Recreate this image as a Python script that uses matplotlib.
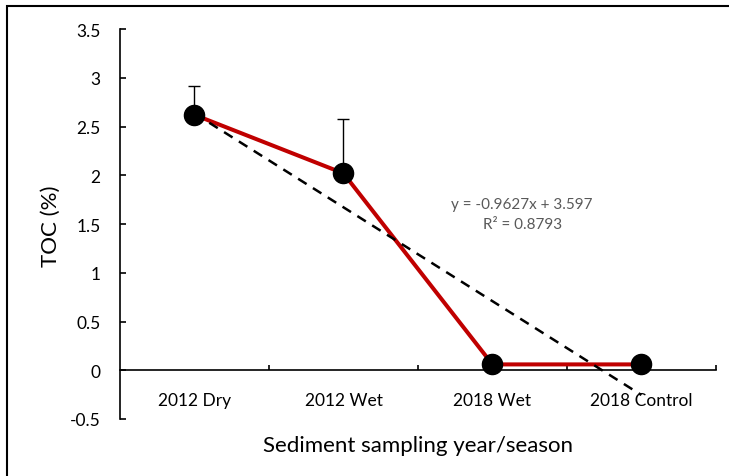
import matplotlib.pyplot as plt
from matplotlib.patches import Rectangle
from matplotlib.ticker import FuncFormatter

# TOC by sampling campaign
categories = ['2012 Dry', '2012 Wet', '2018 Wet', '2018 Control']
toc = [2.62, 2.02, 0.06, 0.06]
toc_err = [0.30, 0.56, 0.0, 0.0]

# linear trend line
slope = -0.9627
intercept = 3.597
r_squared = 0.8793

plt.rcParams['font.family'] = ['Lato', 'DejaVu Sans']

fig = plt.figure(figsize=(7.29, 4.77), dpi=100)
ax = fig.add_axes([0.1646, 0.1195, 0.8174, 0.8175])

x = list(range(1, len(categories) + 1))

ax.errorbar(x, toc, yerr=[[0] * len(toc_err), toc_err], fmt='none',
            ecolor='black', elinewidth=1, capsize=4.5, capthick=1, zorder=2)
ax.plot(x, toc, color='#C00000', lw=2.9, zorder=3)

# trend line drawn from the fitted coefficients
trend = [slope * xi + intercept for xi in x]
ax.plot([x[0], x[-1]], [trend[0], trend[-1]], color='black', lw=1.8,
        linestyle=(0, (4, 3)), zorder=4)
ax.plot(x, toc, 'o', color='black', markersize=14.5, zorder=5)

ax.text(3.2, 1.6, f'y = {slope}x + {intercept}\nR² = {r_squared}',
        ha='center', va='center', fontsize=11, color='#595959', linespacing=1.55)

ax.set_xlim(0.5, 4.5)
ax.set_ylim(-0.5, 3.5)

ax.spines['top'].set_visible(False)
ax.spines['right'].set_visible(False)
ax.spines['bottom'].set_position(('data', 0))
for s in ('left', 'bottom'):
    ax.spines[s].set_linewidth(1.2)

ax.set_yticks([-0.5, 0, 0.5, 1, 1.5, 2, 2.5, 3, 3.5])
ax.yaxis.set_major_formatter(FuncFormatter(lambda v, p: f'{v:g}'))
ax.tick_params(axis='y', direction='in', length=4.5, width=1.2, pad=14,
               labelsize=12.5)

ax.set_xticks(x)
ax.set_xticklabels(categories)
ax.tick_params(axis='x', which='major', length=0, pad=16, labelsize=12.5)
ax.set_xticks([1.5, 2.5, 3.5, 4.5], minor=True)
ax.tick_params(axis='x', which='minor', direction='in', length=3.5, width=1.2)

fig.text(51 / 729, 1 - 226 / 477, 'TOC (%)', rotation=90, ha='center',
         va='center', fontsize=16)
fig.text(0.5734, 1 - 446 / 477, 'Sediment sampling year/season', ha='center',
         va='center', fontsize=16)

# chart area border
fig.patches.append(Rectangle((7 / 729, -0.1), 1.2, 1.1 - 7 / 477,
                             transform=fig.transFigure, fill=False,
                             edgecolor='black', lw=1.5))

fig.savefig('out.png', dpi=100)
